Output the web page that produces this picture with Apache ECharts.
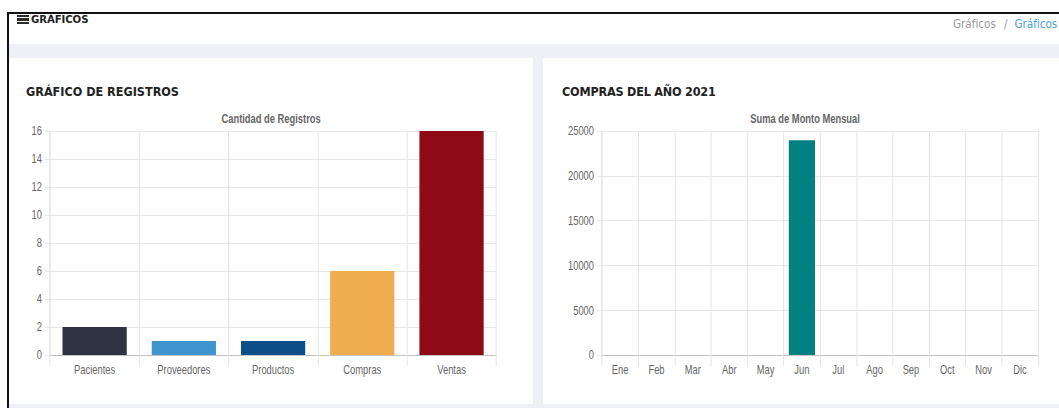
<!DOCTYPE html>
<html lang="es">
<head>
<meta charset="utf-8">
<title>Gráficos</title>
<script src="https://cdn.jsdelivr.net/npm/echarts@6/dist/echarts.min.js"></script>
<style>
  html, body { margin: 0; padding: 0; background: #ffffff; }
  body { width: 1059px; height: 408px; position: relative; overflow: hidden;
         font-family: "DejaVu Sans Condensed", "Liberation Sans", Arial, sans-serif; }
  .frame-top { position: absolute; left: 7px; top: 12px; width: 1052px; height: 2px; background: #111; }
  .frame-left { position: absolute; left: 7px; top: 12px; width: 2px; height: 396px; background: #111; }
  .band { position: absolute; left: 9px; top: 44px; width: 1050px; height: 364px; background: #eef0f5; }
  .page-title { position: absolute; left: 17px; top: 13px; font-weight: bold; font-size: 11.3px;
                color: #222; line-height: 13px; letter-spacing: -0.1px; }
  .page-title .ico { display: inline-block; width: 12px; height: 9px; margin-right: 2px; vertical-align: -1px;
                     background: repeating-linear-gradient(#2a2a2a 0 2.4px, transparent 2.4px 3.3px); }
  .crumbs { position: absolute; left: 953px; top: 17px; font-size: 11.6px; color: #9a9a9a; line-height: 14px; }
  .crumbs .sep { margin: 0 7px 0 8px; }
  .crumbs .active { color: #4aa3df; }
  .card { position: absolute; top: 58px; height: 346px; width: 524px; background: #ffffff; overflow: hidden; }
  .card h3 { position: absolute; top: 27px; margin: 0; font-size: 12.5px; font-weight: bold;
             color: #222; line-height: 14px; }
  .chart { position: absolute; left: 0; top: 42px; height: 300px; transform-origin: 0 0; }
</style>
</head>
<body>
<div class="band"></div>
<div class="frame-top"></div>
<div class="frame-left"></div>
<div class="page-title"><span class="ico"></span>GRÁFICOS</div>
<div class="crumbs">Gráficos<span class="sep">/</span><span class="active">Gráficos</span></div>

<div class="card" style="left:9px;">
  <h3 style="left:17px;">GRÁFICO DE REGISTROS</h3>
  <div id="chartRegistros" class="chart"></div>
</div>
<div class="card" style="left:543px;">
  <h3 style="left:19px; letter-spacing:-0.2px;">COMPRAS DEL AÑO 2021</h3>
  <div id="chartCompras" class="chart"></div>
</div>

<script>
// Cantidad de registros por módulo
const registroCategorias = ['Pacientes', 'Proveedores', 'Productos', 'Compras', 'Ventas'];
const registroValores = [2, 1, 1, 6, 16];
const registroTicks = { min: 0, max: 16, interval: 2 };

// Suma de montos de compra por mes (2021)
const meses = ['Ene', 'Feb', 'Mar', 'Abr', 'May', 'Jun', 'Jul', 'Ago', 'Sep', 'Oct', 'Nov', 'Dic'];
const montoMensual = [0, 0, 0, 0, 0, 23960, 0, 0, 0, 0, 0, 0];
const montoTicks = { min: 0, max: 25000, interval: 5000 };

// Colores de barras
const paletaRegistros = ['#2f3241', '#3e95cd', '#0c4d8a', '#efad4f', '#8e0a17'];
const colorCompras = '#008080';

// The chart canvases are drawn wide and squeezed horizontally, which gives
// the narrow lettering of the dashboard; u() converts on-screen px to chart px.
const SQUEEZE = 0.78;
const CARD_W = 524;
const u = v => v / SQUEEZE;

const FONT = '"Liberation Sans", Arial, Helvetica, sans-serif';
const GRID_COLOR = '#e4e4e4';
const ZERO_COLOR = '#bdbdbd';
const TEXT_COLOR = '#666666';

function barOption(titleText, categories, values, ticks, colorFn, grid) {
  return {
    animation: false,
    textStyle: { fontFamily: FONT },
    title: {
      text: titleText, left: 'center', top: 8,
      textStyle: { fontFamily: FONT, fontSize: 12, fontWeight: 'bold', color: TEXT_COLOR }
    },
    grid: grid,
    xAxis: {
      type: 'category',
      data: categories,
      boundaryGap: true,
      axisLine: { show: true, lineStyle: { color: ZERO_COLOR, width: 1 } },
      axisTick: { show: true, length: 11, lineStyle: { color: GRID_COLOR, width: u(1) } },
      splitLine: { show: true, lineStyle: { color: GRID_COLOR, width: u(1) } },
      axisLabel: { color: TEXT_COLOR, fontFamily: FONT, fontSize: 12, margin: 9 }
    },
    yAxis: {
      type: 'value',
      min: ticks.min, max: ticks.max, interval: ticks.interval,
      axisLine: { show: true, lineStyle: { color: GRID_COLOR, width: u(1) } },
      axisTick: { show: true, length: u(5), lineStyle: { color: GRID_COLOR } },
      splitLine: { show: true, lineStyle: { color: GRID_COLOR, width: 1 } },
      axisLabel: { color: TEXT_COLOR, fontFamily: FONT, fontSize: 12, margin: u(8),
                   formatter: v => String(v) }
    },
    series: [{
      type: 'bar',
      data: values,
      barCategoryGap: '28%',
      itemStyle: { color: colorFn },
      emphasis: { disabled: true }
    }]
  };
}

function makeChart(id, opt) {
  const el = document.getElementById(id);
  el.style.width = u(CARD_W) + 'px';
  el.style.transform = 'scaleX(' + SQUEEZE + ')';
  const chart = echarts.init(el, null, { renderer: 'svg' });
  chart.setOption(opt);
  return chart;
}

makeChart('chartRegistros', barOption(
  'Cantidad de Registros', registroCategorias, registroValores, registroTicks,
  p => paletaRegistros[p.dataIndex],
  { left: u(41), right: u(37), top: 31, bottom: 45 }
));

makeChart('chartCompras', barOption(
  'Suma de Monto Mensual', meses, montoMensual, montoTicks,
  () => colorCompras,
  { left: u(59), right: u(29), top: 31, bottom: 45 }
));
</script>
</body>
</html>
